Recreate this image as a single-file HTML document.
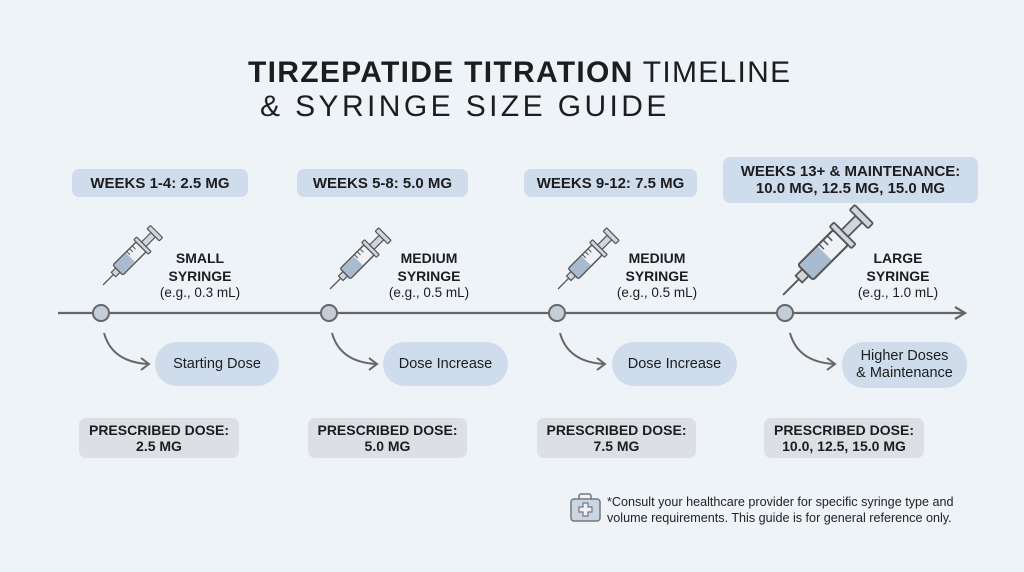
<!DOCTYPE html>
<html><head><meta charset="utf-8">
<style>
body{margin:0;width:1024px;height:572px;overflow:hidden;background:#eef3f8;font-family:"Liberation Sans",sans-serif;color:#1d1d1f}
.a{position:absolute}
.title{font-size:30px;line-height:34px;white-space:nowrap}
.hdr{background:#cfdceb;border-radius:7px;font-weight:bold;font-size:15px;text-align:center;line-height:17px;display:flex;align-items:center;justify-content:center}
.lbl{text-align:center;font-size:13.5px;line-height:16.5px;width:120px}
.lbl b{font-size:14px}
.pill{background:#cfdceb;border-radius:22px;font-size:14.5px;text-align:center;display:flex;align-items:center;justify-content:center;line-height:17px}
.rx{background:#dcdfe3;border-radius:7px;font-weight:bold;font-size:14px;text-align:center;line-height:16px;display:flex;align-items:center;justify-content:center}
.fn{left:607px;top:494px;font-size:12.6px;line-height:16px;color:#222}
</style></head><body>
<div class="a title" style="top:56px;left:248px;letter-spacing:1.3px"><b>TIRZEPATIDE TITRATION</b> TIMELINE</div>
<div class="a title" style="top:90px;left:260px;letter-spacing:3.4px">&amp; SYRINGE SIZE GUIDE</div>

<svg class="a" style="left:0;top:0" width="1024" height="572">
<defs>
<symbol id="syr" viewBox="0 0 100 28">
<line x1="0" y1="14" x2="22" y2="14" stroke="#555" stroke-width="1.6"/>
<rect x="19" y="10" width="8" height="8" fill="#cfd6de" stroke="#555" stroke-width="1.5"/>
<rect x="27" y="5" width="42" height="18" rx="2" fill="#eef2f6" stroke="#555" stroke-width="1.8"/>
<rect x="28" y="6" width="22" height="16" fill="#a9bccf"/>
<line x1="52" y1="5" x2="52" y2="11" stroke="#555" stroke-width="1.3"/>
<line x1="57" y1="5" x2="57" y2="11" stroke="#555" stroke-width="1.3"/>
<line x1="62" y1="5" x2="62" y2="11" stroke="#555" stroke-width="1.3"/>
<rect x="69" y="1" width="5" height="26" rx="1" fill="#cfd6de" stroke="#555" stroke-width="1.5"/>
<rect x="74" y="10" width="17" height="8" fill="#cfd6de" stroke="#555" stroke-width="1.5"/>
<rect x="91" y="3" width="6" height="22" rx="1" fill="#cfd6de" stroke="#555" stroke-width="1.5"/>
</symbol>
</defs>
<line x1="58" y1="313" x2="963" y2="313" stroke="#666" stroke-width="2.2"/>
<polyline points="955,307 965,313 955,319" fill="none" stroke="#666" stroke-width="2.2"/>
<g><use href="#syr" width="78" height="22" transform="translate(103,285) rotate(-45) translate(0,-11)"/></g>
<g><use href="#syr" width="80" height="22.4" transform="translate(330,289) rotate(-45) translate(0,-11.2)"/></g>
<g><use href="#syr" width="80" height="22.4" transform="translate(558,289) rotate(-45) translate(0,-11.2)"/></g>
<g><use href="#syr" width="118" height="33" transform="translate(783,295) rotate(-45) translate(0,-16.5)"/></g>
<g fill="#c3ced9" stroke="#666" stroke-width="2">
<circle cx="101" cy="313" r="8"/>
<circle cx="329" cy="313" r="8"/>
<circle cx="557" cy="313" r="8"/>
<circle cx="785" cy="313" r="8"/>
</g>
<g fill="none" stroke="#666" stroke-width="2">
<path d="M104,333 Q112,362 148,364"/><polyline points="141,358 149,364 141,370"/>
<path d="M332,333 Q340,362 376,364"/><polyline points="369,358 377,364 369,370"/>
<path d="M560,333 Q568,362 604,364"/><polyline points="597,358 605,364 597,370"/>
<path d="M790,333 Q798,362 834,364"/><polyline points="827,358 835,364 827,370"/>
</g>
<g>
<rect x="579" y="494" width="12" height="6" rx="2" fill="none" stroke="#777" stroke-width="1.5"/>
<rect x="571" y="499" width="29" height="22" rx="3" fill="#c8d5e2" stroke="#777" stroke-width="1.5"/>
<path d="M583,503h5v4h4v5h-4v4h-5v-4h-4v-5h4z" fill="#eef2f6" stroke="#777" stroke-width="1.2"/>
</g>
</svg>

<div class="a hdr" style="left:72px;top:169px;width:176px;height:28px">WEEKS 1-4: 2.5 MG</div>
<div class="a hdr" style="left:297px;top:169px;width:171px;height:28px">WEEKS 5-8: 5.0 MG</div>
<div class="a hdr" style="left:524px;top:169px;width:173px;height:28px">WEEKS 9-12: 7.5 MG</div>
<div class="a hdr" style="left:723px;top:157px;width:255px;height:46px">WEEKS 13+ &amp; MAINTENANCE:<br>10.0 MG, 12.5 MG, 15.0 MG</div>

<div class="a lbl" style="left:140px;top:250px"><b>SMALL<br>SYRINGE</b><br>(e.g., 0.3 mL)</div>
<div class="a lbl" style="left:369px;top:250px"><b>MEDIUM<br>SYRINGE</b><br>(e.g., 0.5 mL)</div>
<div class="a lbl" style="left:597px;top:250px"><b>MEDIUM<br>SYRINGE</b><br>(e.g., 0.5 mL)</div>
<div class="a lbl" style="left:838px;top:250px"><b>LARGE<br>SYRINGE</b><br>(e.g., 1.0 mL)</div>

<div class="a pill" style="left:155px;top:342px;width:124px;height:44px">Starting Dose</div>
<div class="a pill" style="left:383px;top:342px;width:125px;height:44px">Dose Increase</div>
<div class="a pill" style="left:612px;top:342px;width:125px;height:44px">Dose Increase</div>
<div class="a pill" style="left:842px;top:342px;width:125px;height:46px">Higher Doses<br>&amp; Maintenance</div>

<div class="a rx" style="left:79px;top:418px;width:160px;height:40px">PRESCRIBED DOSE:<br>2.5 MG</div>
<div class="a rx" style="left:308px;top:418px;width:159px;height:40px">PRESCRIBED DOSE:<br>5.0 MG</div>
<div class="a rx" style="left:537px;top:418px;width:159px;height:40px">PRESCRIBED DOSE:<br>7.5 MG</div>
<div class="a rx" style="left:764px;top:418px;width:160px;height:40px">PRESCRIBED DOSE:<br>10.0, 12.5, 15.0 MG</div>

<div class="a fn">*Consult your healthcare provider for specific syringe type and<br>volume requirements. This guide is for general reference only.</div>
</body></html>
